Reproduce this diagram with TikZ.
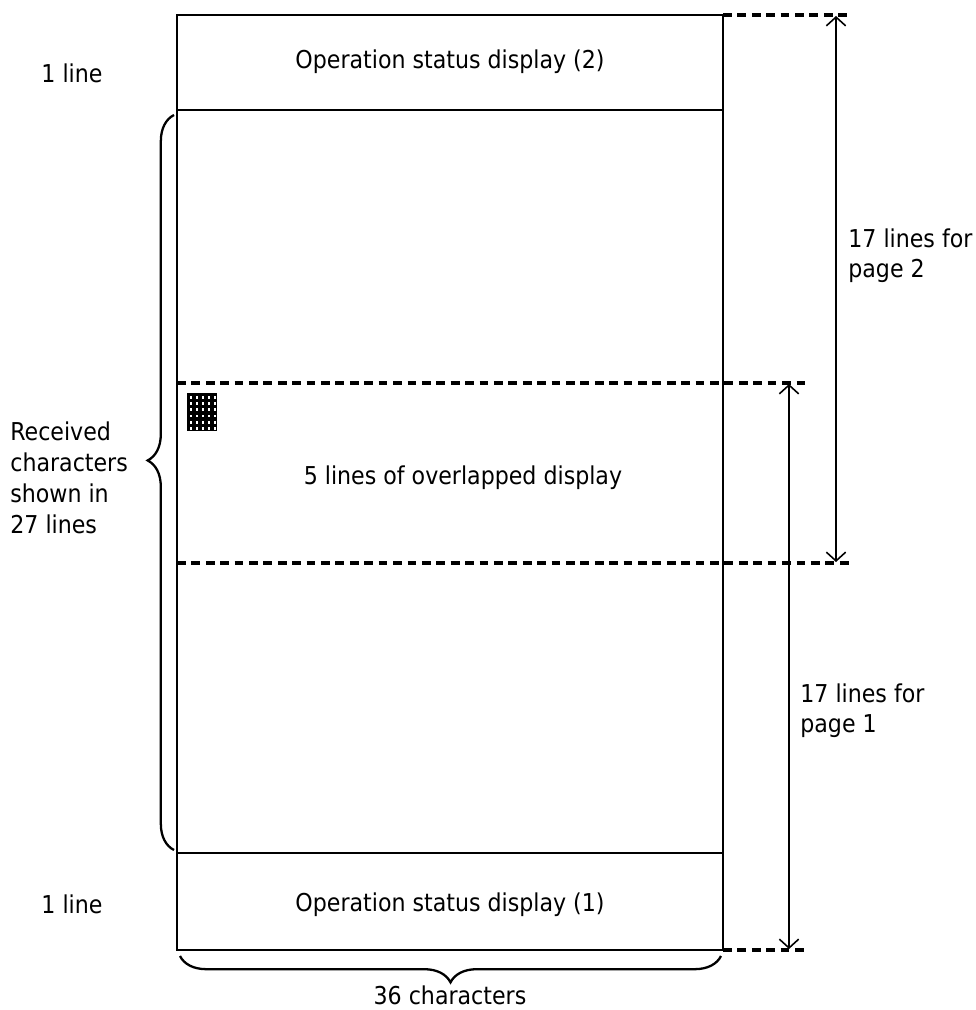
\documentclass[tikz,border=0pt]{standalone}
\usepackage{fontspec}
\setmainfont{DejaVu Sans Condensed}
\usetikzlibrary{arrows.meta,decorations.pathreplacing}

\tikzset{
	box/.style={line width=1.2pt},
	cut/.style={line width=1.9pt, dash pattern=on 5pt off 3.2pt},
	span/.style={line width=0.8pt, {Straight Barb[length=5pt,width=11pt,line width=0.9pt]}-{Straight Barb[length=5pt,width=11pt,line width=0.9pt]}},
	txt/.style={font=\fontsize{14}{17.6}\selectfont, inner sep=0pt},
	curly/.style={decorate, decoration={brace, amplitude=15pt, aspect=#1}, line width=1.3pt},
	curly/.default=0.5
}

\begin{document}
\begin{tikzpicture}[x=0.02cm, y=-0.02cm]
	\useasboundingbox (0,0) rectangle (976,1010);

	\coordinate (tl) at (177,15);
	\coordinate (br) at (723,950);
	\coordinate (tr) at (723,15);
	\coordinate (s2l) at (177,110);
	\coordinate (s2r) at (723,110);
	\coordinate (s1l) at (177,853);
	\coordinate (s1r) at (723,853);
	\coordinate (o1l) at (177,383);
	\coordinate (o1r) at (805,383);
	\coordinate (o2l) at (177,563);
	\coordinate (o2r) at (850,563);
	\coordinate (topr) at (850,15);
	\coordinate (botr) at (805,950);

	\draw [box] (tl) rectangle (br);
	\draw [box] (s2l) -- (s2r);
	\draw [box] (s1l) -- (s1r);

	\draw [cut] (o1l) -- (o1r);
	\draw [cut] (o2l) -- (o2r);
	\draw [cut] (tr) -- (topr);
	\draw [cut] (br) -- (botr);

	\coordinate (p2a) at (836,16);
	\coordinate (p2b) at (836,562);
	\coordinate (p1a) at (789,384);
	\coordinate (p1b) at (789,949);
	\draw [span] (p2a) -- (p2b);
	\draw [span] (p1a) -- (p1b);

	\fill (187,393) rectangle (217,431);
	\foreach \i in {0,...,4}
		\foreach \j in {0,...,5}
			\fill [white] ({189.5+6*\i},{396+6.2*\j}) rectangle ++(2.8,2.8);

	\draw [curly=0.53] (174,850) -- (174,115);
	\draw [curly] (721,956) -- (180,956);

	\node [txt] (stat2) at (450,62) {Operation status display (2)};
	\node [txt] (stat1) at (450,905) {Operation status display (1)};
	\node [txt] (overlap) at (463,478) {5 lines of overlapped display};

	\node [txt] (one2) at (72,73) {1 line};
	\node [txt] (one1) at (72,904) {1 line};
	\node [txt, align=left, anchor=west] (recv) at (10,478) {Received\\characters\\shown in\\27 lines};

	\node [txt, align=left, anchor=north west] (pg2) at (848,228) {17 lines for\\page 2};
	\node [txt, align=left, anchor=north west] (pg1) at (800,683) {17 lines for\\page 1};

	\node [txt] (chars) at (450,995) {36 characters};
\end{tikzpicture}
\end{document}
